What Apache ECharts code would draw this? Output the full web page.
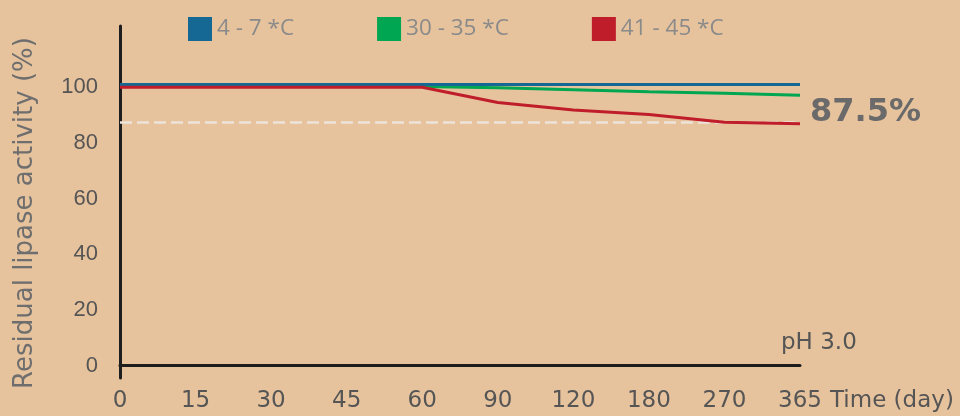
<!DOCTYPE html>
<html>
<head>
<meta charset="utf-8">
<script src="https://cdn.jsdelivr.net/npm/echarts@6/dist/echarts.min.js"></script>
<style>
html,body{margin:0;padding:0;background:#e7c39d;}
#chart{width:960px;height:416px;}
</style>
</head>
<body>
<div id="chart"></div>
<script>
const categories = ['0','15','30','45','60','90','120','180','270','365'];
const seriesNames = ['4 - 7 *C','30 - 35 *C','41 - 45 *C'];
const cold = [101,101,101,101,101,101,101,101,101,101];
const mid = [100.4,100.4,100.4,100.4,100.3,99.8,99.1,98.4,97.8,97.1];
const hot = [100,100,100,100,100,94.5,91.8,90.2,87.4,86.9];
const threshold = 87.5;
const thresholdLabel = '87.5%';
const yTicks = [0,20,40,60,80,100];
const noteText = 'pH 3.0';

const chart = echarts.init(document.getElementById('chart'), null, {renderer:'canvas'});
const lineStyle = (c) => ({color:c, width:3});
chart.setOption({
  backgroundColor:'#e7c39d',
  animation:false,
  title:{
    text:noteText, left:776, top:327,
    textStyle:{fontFamily:'DejaVu Sans', fontSize:23, fontWeight:'normal', color:'#555555'}
  },
  legend:{
    left:183, top:12, itemWidth:24, itemHeight:24, itemGap:83, itemTextGap:7,
    icon:'rect',
    data:seriesNames,
    textStyle:{fontFamily:'Open Sans', fontSize:22.5, color:'#8a8a8a', padding:[3,0,0,0]}
  },
  grid:{left:120, right:160, top:26, bottom:38},
  xAxis:{
    type:'category', data:categories, boundaryGap:false,
    name:'Time (day)', nameLocation:'end', nameGap:30,
    nameTextStyle:{fontFamily:'DejaVu Sans', fontSize:23, color:'#555555', verticalAlign:'top', padding:[24,0,0,0]},
    axisLine:{lineStyle:{color:'#1e1e1e', width:3}},
    axisTick:{show:false},
    axisLabel:{interval:0, fontFamily:'DejaVu Sans', fontSize:23, color:'#555555', margin:12},
    splitLine:{show:false}
  },
  yAxis:{
    type:'value', min:-4.5, max:122,
    name:'Residual lipase activity (%)', nameLocation:'middle', nameGap:82, nameRotate:90,
    nameTextStyle:{fontFamily:'DejaVu Sans', fontSize:26, color:'#6e6e6e', padding:[0,22,0,0]},
    axisLine:{show:true, lineStyle:{color:'#1e1e1e', width:3}},
    axisTick:{show:false},
    axisLabel:{customValues:yTicks, fontFamily:'Liberation Sans', fontSize:22, color:'#555555', margin:22},
    splitLine:{show:false}
  },
  series:[
    {name:seriesNames[0], type:'line', data:cold, symbol:'none', itemStyle:{color:'#156794'}, lineStyle:lineStyle('#156794'), z:4},
    {name:seriesNames[1], type:'line', data:mid, symbol:'none', itemStyle:{color:'#00a651'}, lineStyle:lineStyle('#00a651'), z:3},
    {name:seriesNames[2], type:'line', data:hot, symbol:'none', itemStyle:{color:'#c01d2b'}, lineStyle:lineStyle('#c01d2b'), z:5,
      markLine:{
        silent:true, symbol:'none', z:1,
        lineStyle:{color:'#ece4da', width:2.5, type:[12,5]},
        label:{show:true, position:'end', distance:10, offset:[0,-9], formatter:thresholdLabel,
          fontFamily:'DejaVu Sans', fontWeight:'bold', fontSize:32, color:'#6a6a6a'},
        data:[{yAxis:threshold}]
      }
    }
  ]
});
</script>
</body>
</html>
